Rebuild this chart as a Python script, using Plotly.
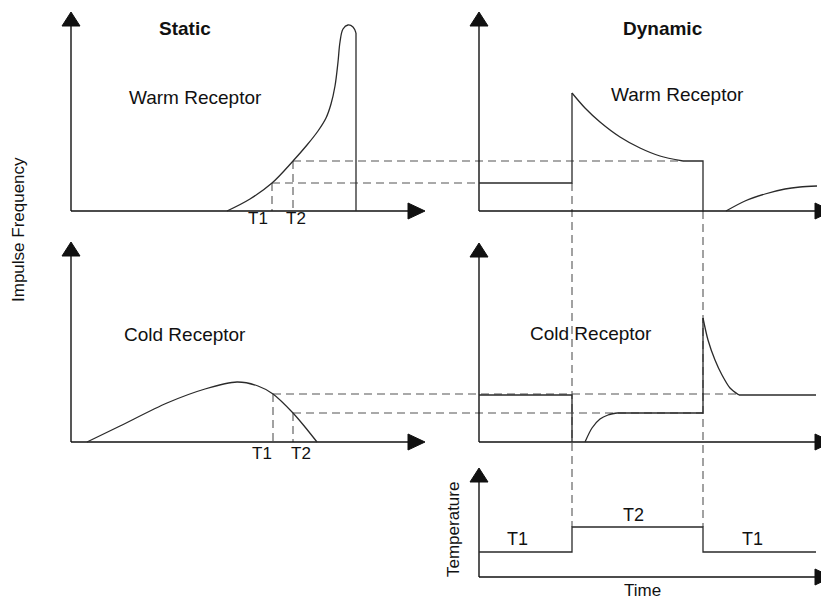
import plotly.graph_objects as go

# ---------------- data (diagram coordinates: x right, y down) ----------------
# Static panels
warm_static_x = [227, 250, 272, 293, 307, 318, 326, 331, 335, 338, 340, 343, 348, 353, 356]
warm_static_y = [211, 199, 183, 161, 145, 131, 118, 104, 86, 62, 42, 29, 25, 27, 33]
warm_static_drop_x = [356, 356]
warm_static_drop_y = [33, 211]

cold_static_x = [87, 120, 167, 205, 237, 258, 273, 293, 305, 317]
cold_static_y = [442, 426, 403, 389, 382, 386, 394, 413, 427, 442]

# Dynamic panels
warm_dyn_x = [479, 572, 572, 585, 600, 620, 640, 660, 683, 703, 703]
warm_dyn_y = [183, 183, 93, 108, 122, 137, 148, 156, 161, 161, 211]
warm_tail_x = [726, 745, 765, 785, 800, 817]
warm_tail_y = [211, 201, 194, 189, 187, 186]

cold_dyn_level_x = [479, 572, 572]
cold_dyn_level_y = [395, 395, 442]
cold_rise_x = [585, 592, 600, 608, 617, 703, 703]
cold_rise_y = [442, 428, 419, 415, 413, 413, 318]
cold_decay_x = [703, 708, 715, 722, 730, 739, 816]
cold_decay_y = [318, 340, 360, 375, 388, 395, 395]

temp_x = [479, 572, 572, 703, 703, 816]
temp_y = [552, 552, 527, 527, 552, 552]

# Axes (origin x, origin y, top tip y, right tip x)
axes_ox = [71, 71, 479, 479, 479]
axes_oy = [211, 442, 211, 442, 577]
axes_top = [12, 242, 12, 243, 468]
axes_right = [425, 425, 832, 832, 832]

# Dashed guide lines: (x0, y0, x1, y1)
guides = [
    (272, 183, 479, 183), (293, 161, 683, 161),
    (272, 183, 272, 211), (293, 161, 293, 211),
    (273, 394, 739, 394), (293, 413, 703, 413),
    (273, 394, 273, 442), (293, 413, 293, 442),
    (572, 183, 572, 527), (703, 211, 703, 527),
]

# Text labels
labels = ["Static", "Dynamic", "Warm Receptor", "Warm Receptor",
          "Cold Receptor", "Cold Receptor",
          "T1", "T2", "T1", "T2", "T1", "T2", "T1", "Time"]
label_x = [185, 663, 195, 677, 185, 591, 258, 296, 262, 301, 517, 633, 752, 642]
label_y = [28, 28, 97, 94, 334, 333, 218, 218, 453, 453, 539, 515, 539, 590]
label_bold = [True, True] + [False] * 12
label_size = [19, 19, 19, 19, 19, 19, 17, 17, 17, 17, 18, 18, 18, 17]

vlabels = ["Impulse Frequency", "Temperature"]
vlabel_x = [18, 453]
vlabel_y = [230, 530]

# ---------------- figure ----------------
fig = go.Figure()
CURVE = "#2a2a2a"
AXIS = "#111111"
DASH = "#555555"


def line(x, y, color=CURVE, width=1.3, dash=None, shape="linear", smoothing=1.0):
    fig.add_trace(go.Scatter(
        x=x, y=y, mode="lines", hoverinfo="skip", showlegend=False,
        line=dict(color=color, width=width, dash=dash, shape=shape,
                  smoothing=smoothing if shape == "spline" else None)))


# dashed guides first (below)
for x0, y0, x1, y1 in guides:
    line([x0, x1], [y0, y1], color=DASH, width=1.1, dash="8px,5px")

# axes with arrowheads
for ox, oy, top, right in zip(axes_ox, axes_oy, axes_top, axes_right):
    line([ox, ox], [oy, top + 10], color=AXIS, width=1.4)
    line([ox, right - 12], [oy, oy], color=AXIS, width=1.4)
    fig.add_trace(go.Scatter(
        x=[ox - 9, ox + 9, ox, ox - 9], y=[top + 14, top + 14, top, top + 14],
        mode="lines", fill="toself", fillcolor=AXIS, line=dict(color=AXIS, width=1),
        hoverinfo="skip", showlegend=False))
    fig.add_trace(go.Scatter(
        x=[right - 17, right - 17, right, right - 17], y=[oy - 8, oy + 8, oy, oy - 8],
        mode="lines", fill="toself", fillcolor=AXIS, line=dict(color=AXIS, width=1),
        hoverinfo="skip", showlegend=False))

# curves
line(warm_static_x, warm_static_y, shape="spline", smoothing=1.0)
line(warm_static_drop_x, warm_static_drop_y)
line(cold_static_x, cold_static_y, shape="spline", smoothing=0.8)
line(warm_dyn_x[:3], warm_dyn_y[:3])
line(warm_dyn_x[2:9], warm_dyn_y[2:9], shape="spline", smoothing=0.8)
line(warm_dyn_x[8:], warm_dyn_y[8:])
line(warm_tail_x, warm_tail_y, shape="spline", smoothing=0.8)
line(cold_dyn_level_x, cold_dyn_level_y)
line(cold_rise_x[:5], cold_rise_y[:5], shape="spline", smoothing=0.8)
line(cold_rise_x[4:], cold_rise_y[4:])
line(cold_decay_x[:6], cold_decay_y[:6], shape="spline", smoothing=0.8)
line(cold_decay_x[5:], cold_decay_y[5:])
line(temp_x, temp_y)

FONT = "Liberation Sans, Arial, sans-serif"
for t, x, y, b, s in zip(labels, label_x, label_y, label_bold, label_size):
    fig.add_annotation(x=x, y=y, text=f"<b>{t}</b>" if b else t, showarrow=False,
                       xanchor="center", yanchor="middle",
                       font=dict(family=FONT, size=s, color="#111111"))
for t, x, y in zip(vlabels, vlabel_x, vlabel_y):
    fig.add_annotation(x=x, y=y, text=t, showarrow=False, textangle=-90,
                       xanchor="center", yanchor="middle",
                       font=dict(family=FONT, size=17, color="#111111"))

fig.update_layout(
    width=821, height=600, autosize=False,
    margin=dict(l=0, r=0, t=0, b=0),
    paper_bgcolor="white", plot_bgcolor="white",
    xaxis=dict(range=[0, 821], visible=False, fixedrange=True),
    yaxis=dict(range=[600, 0], visible=False, fixedrange=True),
)

fig.write_html(
    "out.html",
    config={"displayModeBar": False},
    post_script="document.body.style.margin='0';document.body.style.overflow='hidden';",
)
